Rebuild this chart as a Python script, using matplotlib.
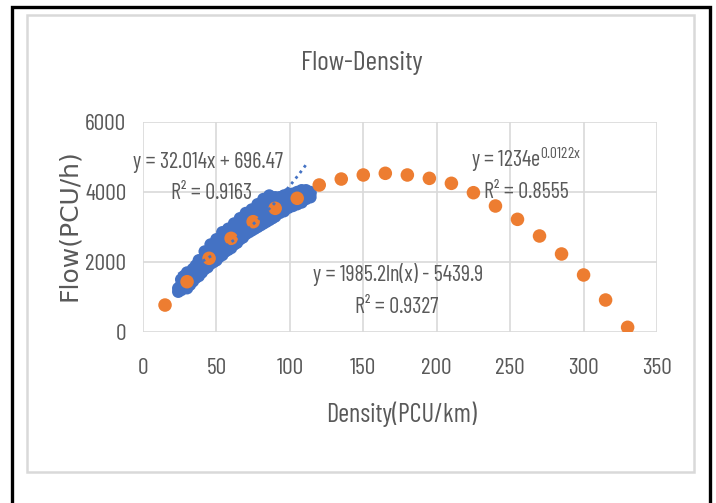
import matplotlib
matplotlib.use("Agg")
import matplotlib.pyplot as plt
import numpy as np
from matplotlib.patches import Rectangle

# ---------------- data ----------------
orange_density = [15, 30, 45, 60, 75, 90, 105, 120, 135, 150, 165, 180, 195,
                  210, 225, 240, 255, 270, 285, 300, 315, 330]
orange_flow = [770, 1437, 2105, 2676, 3152, 3533, 3820, 4200, 4370, 4486, 4534,
               4486, 4390, 4248, 3980, 3600, 3219, 2743, 2229, 1629, 914, 134]

blue_density = [24, 24, 26, 26, 26, 28, 28, 28, 30, 30, 30, 30, 32, 32, 32,
                34, 34, 34, 36, 36, 36, 38, 38, 38, 38, 40, 40, 40,
                42, 42, 42, 42, 44, 44, 44, 46, 46, 46, 46, 48, 48, 48,
                50, 50, 50, 50, 52, 52, 52, 54, 54, 54, 54, 56, 56, 56,
                58, 58, 58, 58, 60, 60, 60, 62, 62, 62, 62, 64, 64, 64,
                66, 66, 66, 66, 68, 68, 68, 70, 70, 70, 70, 72, 72, 72,
                74, 74, 74, 74, 76, 76, 76, 78, 78, 78, 78, 80, 80, 80,
                82, 82, 82, 82, 84, 84, 84, 86, 86, 86, 86, 88, 88, 88,
                90, 90, 90, 93, 93, 93, 96, 96, 96, 99, 99, 99, 102, 102, 102,
                105, 105, 105, 108, 108, 108, 111, 111, 111, 114, 114, 114]
blue_flow = [1250, 1150, 1350, 1200, 1500, 1450, 1300, 1600, 1400, 1550, 1700, 1250,
             1500, 1700, 1350, 1600, 1800, 1450, 1700, 1900, 1550,
             1800, 1950, 1600, 2050, 1850, 2050, 1700,
             1950, 2150, 1800, 2300, 2050, 2250, 1850, 2100, 2350, 1950, 2500,
             2200, 2450, 2000, 2250, 2500, 2050, 2650, 2350, 2600, 2150,
             2400, 2700, 2200, 2850, 2500, 2750, 2300, 2550, 2850, 2350, 2950,
             2650, 2900, 2400, 2700, 3000, 2500, 3100, 2800, 3050, 2550,
             2850, 3150, 2650, 3250, 2950, 3200, 2700, 3000, 3300, 2800, 3400,
             3050, 3350, 2850, 3100, 3400, 2900, 3500, 3150, 3450, 2950,
             3250, 3500, 3000, 3650, 3300, 3600, 3050, 3350, 3650, 3100, 3800,
             3400, 3700, 3150, 3450, 3750, 3200, 3900, 3500, 3800, 3250,
             3550, 3850, 3300, 3600, 3850, 3400, 3650, 3900, 3450,
             3700, 3950, 3550, 3750, 3950, 3600, 3800, 4000, 3650,
             3850, 4050, 3700, 3900, 4050, 3800, 3950, 4000, 3850]

# exponential trendline  y = a * e^(b x)
exp_a = 1234
exp_b = 0.0122
exp_range = [24, 112]

x_ticks = [0, 50, 100, 150, 200, 250, 300, 350]
y_ticks = [0, 2000, 4000, 6000]

title = "Flow-Density"
xlabel = "Density(PCU/km)"
ylabel = "Flow(PCU/h)"

# ---------------- styling ----------------
NARROW = ["Barlow Condensed", "DejaVu Sans"]
plt.rcParams["mathtext.fontset"] = "custom"
plt.rcParams["mathtext.rm"] = "Barlow Condensed"
plt.rcParams["mathtext.it"] = "Barlow Condensed"

W, H = 716, 503
fig = plt.figure(figsize=(W / 100, H / 100), dpi=100)
GRAY = "#595959"
BLUE = "#4472C4"
ORANGE = "#ED7D31"
GRID = "#d9d9d9"

ax = fig.add_axes([143 / W, 1 - 332 / H, (657 - 143) / W, (332 - 122) / H])
ax.set_xlim(0, 350)
ax.set_ylim(0, 6000)
ax.set_xticks(x_ticks)
ax.set_yticks(y_ticks)
ax.grid(True, color=GRID, linewidth=1.2, zorder=0)
ax.set_axisbelow(True)
for s in ax.spines.values():
    s.set_visible(False)
ax.tick_params(length=0, colors=GRAY)
ax.tick_params(axis="x", pad=19)
ax.tick_params(axis="y", pad=12)
for lab in ax.get_xticklabels() + ax.get_yticklabels():
    lab.set_fontfamily(NARROW)
    lab.set_fontsize(17)
    lab.set_color(GRAY)

ax.scatter(blue_density, blue_flow, s=80, color=BLUE, edgecolors="none", zorder=3)
ax.scatter(orange_density, orange_flow, s=95, color=ORANGE, edgecolors="none", zorder=4)

xe = np.linspace(exp_range[0], exp_range[1], 100)
ax.plot(xe, exp_a * np.exp(exp_b * xe), linestyle=(0, (1, 1.5)), color=BLUE,
        linewidth=2, zorder=5)

# trendline labels
tk = dict(color=GRAY, fontsize=16, family=NARROW, ha="center", va="center", zorder=6)
ax.text(44, 4857, "y = 32.014x + 696.47", **tk)
ax.text(47, 3943, "R² = 0.9163", **tk)
ax.text(173.6, 1629, "y = 1985.2ln(x) - 5439.9", **tk)
ax.text(173, 686, "R² = 0.9327", **tk)
ax.text(261, 4914, r"y = 1234e$^{\mathrm{0.0122x}}$", **tk)
ax.text(261, 4000, "R² = 0.8555", **tk)

fig.text(362 / W, 1 - 63 / H, title, ha="center", va="center", fontsize=20,
         family=NARROW, color=GRAY)
fig.text(402 / W, 1 - 414 / H, xlabel, ha="center", va="center", fontsize=19,
         family=NARROW, color=GRAY)
fig.text(69 / W, 1 - 225 / H, ylabel, ha="center", va="center", fontsize=18,
         family="DejaVu Sans", color=GRAY, rotation=90)

# frames
fig.patches.append(Rectangle((27 / W, 1 - 472 / H), (694 - 27) / W, (472 - 15) / H,
                             transform=fig.transFigure, fill=False,
                             edgecolor=GRID, linewidth=1.8))
fig.patches.append(Rectangle((12 / W, -0.05), (710 - 12) / W, 1 - 7 / H + 0.05,
                             transform=fig.transFigure, fill=False,
                             edgecolor="black", linewidth=2.4))

fig.savefig("out.png", dpi=100)
